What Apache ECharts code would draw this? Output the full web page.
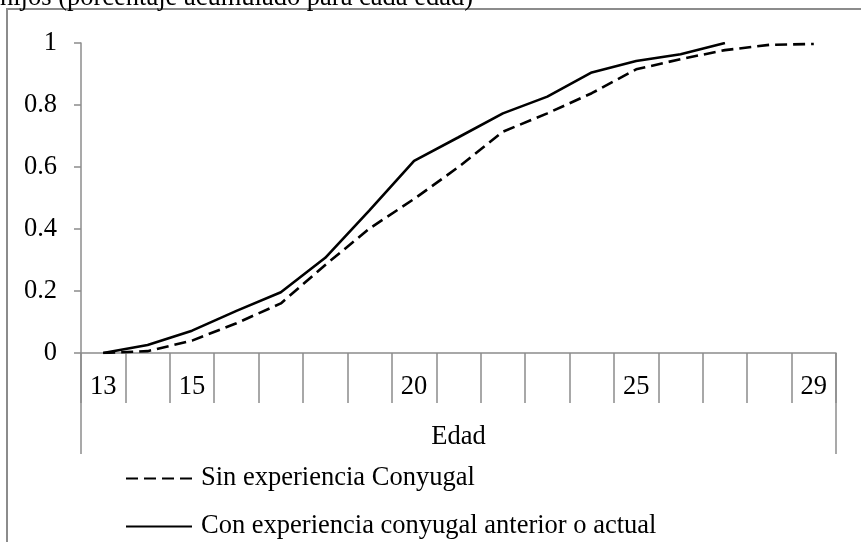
<!DOCTYPE html>
<html>
<head>
<meta charset="utf-8">
<script src="https://cdn.jsdelivr.net/npm/echarts@6/dist/echarts.min.js"></script>
<style>
  html, body { margin: 0; padding: 0; background: #fff; }
  #chart { width: 861px; height: 542px; }
</style>
</head>
<body>
<div id="chart"></div>
<script>
const ages = ["13", "14", "15", "16", "17", "18", "19", "20", "21", "22", "23", "24", "25", "26", "27", "28", "29"];
const shownAges = ["13", "15", "20", "25", "29"];
const sinExperiencia = [0, 0.006, 0.04, 0.096, 0.16, 0.284, 0.402, 0.497, 0.6, 0.714, 0.773, 0.838, 0.915, 0.948, 0.977, 0.994, 0.997];
const conExperiencia = [0, 0.026, 0.072, 0.136, 0.196, 0.307, 0.461, 0.62, 0.696, 0.773, 0.827, 0.905, 0.942, 0.964, 1.0, null, null];
const yTicks = [0, 0.2, 0.4, 0.6, 0.8, 1];

const font = "Liberation Serif";
const fontSize = 26.5;
const axisGray = "#8c8c8c";

const gridLeft = 81;
const gridRight = 25;
const gridTop = 43;
const gridBottom = 189;

const chart = echarts.init(document.getElementById("chart"));

const option = {
  animation: false,
  textStyle: { fontFamily: font, color: "#000" },
  grid: {
    left: gridLeft,
    right: gridRight,
    top: gridTop,
    bottom: gridBottom,
  },
  xAxis: {
    type: "category",
    data: ages,
    boundaryGap: true,
    name: "Edad",
    nameLocation: "middle",
    nameGap: 71,
    nameTextStyle: { fontFamily: font, fontSize: fontSize, color: "#000" },
    axisLine: { show: true, lineStyle: { color: axisGray, width: 1.5 } },
    axisTick: {
      show: true,
      interval: 0,
      length: 50,
      lineStyle: { color: axisGray, width: 1.5 },
    },
    axisLabel: {
      interval: function (idx, val) { return shownAges.indexOf(val) >= 0; },
      margin: 21,
      fontFamily: font,
      fontSize: fontSize,
      color: "#000",
    },
    splitLine: { show: false },
  },
  yAxis: {
    type: "value",
    min: yTicks[0],
    max: yTicks[yTicks.length - 1],
    interval: 0.2,
    axisLine: { show: true, lineStyle: { color: axisGray, width: 1.5 } },
    axisTick: { show: true, length: 7, lineStyle: { color: axisGray, width: 1.5 } },
    axisLabel: {
      margin: 24,
      fontFamily: font,
      fontSize: fontSize,
      color: "#000",
      formatter: function (v) { return String(Math.round(v * 10) / 10); },
    },
    splitLine: { show: false },
  },
  legend: {
    orient: "vertical",
    left: 120,
    top: 460,
    height: 120,
    itemWidth: 66,
    itemHeight: 14,
    itemGap: 21,
    itemStyle: { opacity: 0 },
    textStyle: { fontFamily: font, fontSize: fontSize, color: "#000", padding: [0, 0, 0, 4] },
    data: ["Sin experiencia Conyugal", "Con experiencia conyugal anterior o actual"],
  },
  series: [
    {
      name: "Sin experiencia Conyugal",
      type: "line",
      data: sinExperiencia,
      symbol: "none",
      lineStyle: { color: "#000", width: 2.6, type: [12, 6] },
      itemStyle: { color: "#000" },
    },
    {
      name: "Con experiencia conyugal anterior o actual",
      type: "line",
      data: conExperiencia,
      symbol: "none",
      lineStyle: { color: "#000", width: 2.6 },
      itemStyle: { color: "#000" },
    },
  ],
};

chart.setOption(option);

// frame, cut-off caption and the lower bracket of the category axis
const x0 = gridLeft;
const x1 = 861 - gridRight;
const yAxis0 = chart.convertToPixel({ yAxisIndex: 0 }, 0);
const bracketBottom = yAxis0 + 101;

chart.setOption({
  graphic: [
    {
      type: "rect",
      shape: { x: 7, y: 9, width: 1000, height: 800 },
      style: { fill: null, stroke: axisGray, lineWidth: 2 },
      silent: true,
    },
    {
      type: "text",
      style: {
        x: 0,
        y: 12,
        text: "hijos (porcentaje acumulado para cada edad)",
        font: fontSize + "px " + font,
        fill: "#000",
        verticalAlign: "bottom",
      },
      silent: true,
    },
    {
      type: "line",
      shape: { x1: x0, y1: yAxis0, x2: x0, y2: bracketBottom },
      style: { stroke: axisGray, lineWidth: 1.5 },
      silent: true,
    },
    {
      type: "line",
      shape: { x1: x1, y1: yAxis0, x2: x1, y2: bracketBottom },
      style: { stroke: axisGray, lineWidth: 1.5 },
      silent: true,
    },
  ],
});
</script>
</body>
</html>
